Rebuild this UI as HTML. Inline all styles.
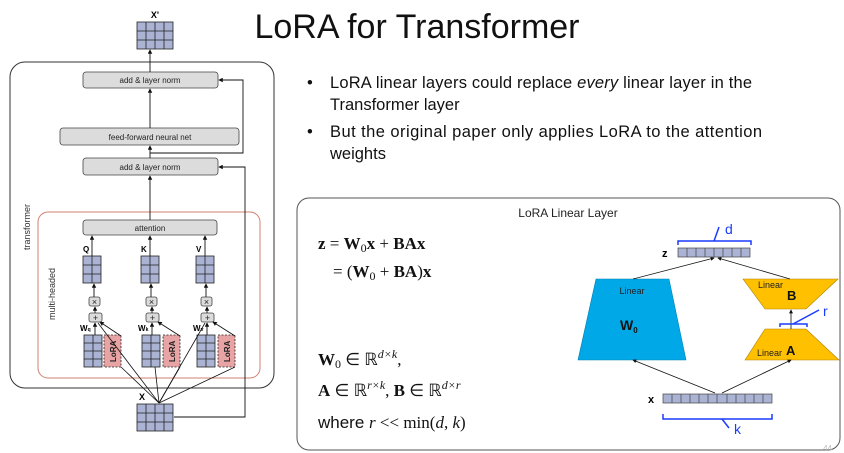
<!DOCTYPE html>
<html><head><meta charset="utf-8"><style>
body{margin:0;background:#fff;width:844px;height:453px;overflow:hidden}
svg{display:block}
text{font-family:"Liberation Sans",sans-serif}
.m{font-family:"Liberation Serif",serif}
</style></head><body>
<svg width="844" height="453" viewBox="0 0 844 453" xmlns="http://www.w3.org/2000/svg">
<defs>
<marker id="ar" viewBox="0 0 6 6" refX="5" refY="3" markerWidth="5" markerHeight="5" orient="auto"><path d="M0,0L6,3L0,6z" fill="#111"/></marker>
</defs>
<text x="417" y="38" font-size="34" text-anchor="middle" fill="#111">LoRA for Transformer</text>
<g font-size="16.5" fill="#111">
<text x="307" y="88">•</text><text x="330" y="88" textLength="422">LoRA linear layers could replace <tspan font-style="italic">every</tspan> linear layer in the</text>
<text x="330" y="110">Transformer layer</text>
<text x="307" y="137">•</text><text x="330" y="137" textLength="432">But the original paper only applies LoRA to the attention</text>
<text x="330" y="159">weights</text>
</g>

<rect x="10" y="62" width="264" height="326" rx="15" fill="none" stroke="#333" stroke-width="1"/>
<text transform="translate(30,250) rotate(-90)" font-size="9" fill="#333">transformer</text>
<rect x="38" y="212" width="222" height="166" rx="10" fill="none" stroke="#d08070" stroke-width="1"/>
<text transform="translate(55,320) rotate(-90)" font-size="9" fill="#333">multi-headed</text>

<g stroke="#222" stroke-width="0.8">
<rect x="137" y="22" width="36" height="27" fill="#aab3d3"/>
<path d="M146,22V49M155,22V49M164,22V49M137,31H173M137,40H173" fill="none"/>
<rect x="137" y="404" width="36" height="27" fill="#aab3d3"/>
<path d="M146,404V431M155,404V431M164,404V431M137,413H173M137,422H173" fill="none"/>
<rect x="83" y="256" width="18" height="27" fill="#aab3d3"/><path d="M92,256V283M83,265H101M83,274H101" fill="none"/>
<rect x="141" y="256" width="18" height="27" fill="#aab3d3"/><path d="M150,256V283M141,265H159M141,274H159" fill="none"/>
<rect x="196" y="256" width="18" height="27" fill="#aab3d3"/><path d="M205,256V283M196,265H214M196,274H214" fill="none"/>
<rect x="84" y="335" width="18" height="32" fill="#aab3d3"/><path d="M93,335V367M84,343H102M84,351H102M84,359H102" fill="none"/>
<rect x="142" y="335" width="18" height="32" fill="#aab3d3"/><path d="M151,335V367M142,343H160M142,351H160M142,359H160" fill="none"/>
<rect x="197" y="335" width="18" height="32" fill="#aab3d3"/><path d="M206,335V367M197,343H215M197,351H215M197,359H215" fill="none"/>
</g>
<text x="155" y="18" font-size="9" font-weight="bold" text-anchor="middle">X'</text>
<text x="139" y="400" font-size="9" font-weight="bold">X</text>

<g fill="#dcdcdc" stroke="#444" stroke-width="0.8">
<rect x="83" y="72" width="135" height="16" rx="3"/>
<rect x="60" y="128" width="179" height="17" rx="3"/>
<rect x="83" y="158" width="135" height="17" rx="3"/>
<rect x="83" y="220" width="134" height="15" rx="3"/>
<rect x="89" y="297" width="11" height="9" rx="2"/><rect x="146" y="297" width="11" height="9" rx="2"/><rect x="201" y="297" width="11" height="9" rx="2"/>
<rect x="89" y="313" width="13" height="9" rx="2"/><rect x="146" y="313" width="13" height="9" rx="2"/><rect x="201" y="313" width="13" height="9" rx="2"/>
</g>
<g font-size="8" fill="#222" text-anchor="middle">
<text x="150" y="83">add &amp; layer norm</text>
<text x="150" y="140">feed-forward neural net</text>
<text x="150" y="170">add &amp; layer norm</text>
<text x="150" y="231">attention</text>
</g>
<g font-size="9" text-anchor="middle" fill="#222">
<text x="94.5" y="305">×</text><text x="151.5" y="305">×</text><text x="206.5" y="305">×</text>
<text x="95.5" y="321">+</text><text x="152.5" y="321">+</text><text x="207.5" y="321">+</text>
</g>
<g font-size="8" font-weight="bold">
<text x="83" y="252">Q</text><text x="141" y="252">K</text><text x="196" y="252">V</text>
<text x="80" y="331">W<tspan font-size="5">q</tspan></text><text x="138" y="331">W<tspan font-size="5">k</tspan></text><text x="193" y="331">W<tspan font-size="5">v</tspan></text>
</g>
<g fill="#e8a4a4" stroke="#222" stroke-width="0.8" stroke-dasharray="2,1.5">
<rect x="104" y="335" width="17" height="32"/><rect x="163" y="335" width="17" height="32"/><rect x="218" y="335" width="17" height="32"/>
</g>
<g font-size="8" font-weight="bold" fill="#222">
<text transform="translate(116,362) rotate(-90)">LoRA</text>
<text transform="translate(175,362) rotate(-90)">LoRA</text>
<text transform="translate(230,362) rotate(-90)">LoRA</text>
</g>
<g stroke="#111" stroke-width="0.9" fill="none" marker-end="url(#ar)">
<path d="M150,72V50"/>
<path d="M150,128V89"/>
<path d="M150,158V146"/>
<path d="M150,220V176"/>
<path d="M92,256V236"/><path d="M150,256V236"/><path d="M205,256V236"/>
<path d="M94,297V284"/><path d="M151,297V284"/><path d="M206,297V284"/>
<path d="M95,313V307"/><path d="M152,313V307"/><path d="M207,313V307"/>
<path d="M95,335V323"/><path d="M152,335V323"/><path d="M207,335V323"/>
<path d="M121,336L100,322"/><path d="M180,336L158,322"/><path d="M235,336L213,322"/>
<path d="M150,153H243V80H219"/>
<path d="M174,417H245V167H219"/>
</g>
<g stroke="#111" stroke-width="0.8" fill="none">
<path d="M159,403L98,323"/><path d="M159,403L121,367"/><path d="M159,403L155,367"/><path d="M159,403L180,367"/><path d="M159,403L205,323"/><path d="M159,403L235,367"/>
</g>

<rect x="297" y="198" width="543" height="252" rx="12" fill="none" stroke="#555" stroke-width="1"/>
<text x="568" y="217" font-size="12" text-anchor="middle" fill="#222">LoRA Linear Layer</text>
<g class="m" font-size="17" fill="#111">
<text x="318" y="249" class="m"><tspan font-weight="bold">z</tspan> = <tspan font-weight="bold">W</tspan><tspan font-size="12" dy="3">0</tspan><tspan dy="-3" font-weight="bold">x</tspan> + <tspan font-weight="bold">BAx</tspan></text>
<text x="333" y="277" class="m">= (<tspan font-weight="bold">W</tspan><tspan font-size="12" dy="3">0</tspan><tspan dy="-3"> + </tspan><tspan font-weight="bold">BA</tspan>)<tspan font-weight="bold">x</tspan></text>
<text x="318" y="365" class="m"><tspan font-weight="bold">W</tspan><tspan font-size="12" dy="3">0</tspan><tspan dy="-3"> ∈ ℝ</tspan><tspan font-size="12" font-style="italic" dy="-7">d×k</tspan><tspan dy="7">,</tspan></text>
<text x="318" y="396" class="m"><tspan font-weight="bold">A</tspan> ∈ ℝ<tspan font-size="12" font-style="italic" dy="-7">r×k</tspan><tspan dy="7">, </tspan><tspan font-weight="bold">B</tspan> ∈ ℝ<tspan font-size="12" font-style="italic" dy="-7">d×r</tspan></text>
</g>
<text x="318" y="428" font-size="17" fill="#111">where <tspan class="m" font-style="italic">r</tspan><tspan class="m"> &lt;&lt; min(</tspan><tspan class="m" font-style="italic">d</tspan><tspan class="m">, </tspan><tspan class="m" font-style="italic">k</tspan><tspan class="m">)</tspan></text>

<path d="M596,279H669L686,360H578Z" fill="#00a8e8" stroke="#0080b0" stroke-width="0.6"/>
<path d="M743,279H838L806,309H765Z" fill="#ffc000" stroke="#b08000" stroke-width="0.6"/>
<path d="M765,329H806L839,360H745Z" fill="#ffc000" stroke="#b08000" stroke-width="0.6"/>
<text x="632" y="294" font-size="9" text-anchor="middle" fill="#222">Linear</text>
<text x="620" y="330" font-size="14" font-weight="bold" fill="#111">W<tspan font-size="8" dy="3">0</tspan></text>
<text x="758" y="288" font-size="9" fill="#222">Linear</text>
<text x="787" y="300" font-size="13" font-weight="bold" fill="#111">B</text>
<text x="757" y="356" font-size="9" fill="#222">Linear</text>
<text x="786" y="355" font-size="13" font-weight="bold" fill="#111">A</text>
<g stroke="#444" stroke-width="0.7">
<rect x="678" y="248" width="72" height="9" fill="#aab3d3"/>
<path d="M687,248V257M696,248V257M705,248V257M714,248V257M723,248V257M732,248V257M741,248V257"/>
<rect x="663" y="394" width="109" height="9" fill="#aab3d3"/>
<path d="M672,394V403M681,394V403M690,394V403M699,394V403M708,394V403M717,394V403M727,394V403M736,394V403M745,394V403M754,394V403M763,394V403"/>
</g>
<text x="662" y="257" font-size="11" font-weight="bold">z</text>
<text x="648" y="403" font-size="11" font-weight="bold">x</text>
<g stroke="#111" stroke-width="0.8" fill="none" marker-end="url(#ar)">
<path d="M633,279L714,258"/>
<path d="M790,279L718,258"/>
<path d="M715,393L633,360"/>
<path d="M722,393L791,360"/>
<path d="M791,329L791,310"/>
</g>
<g stroke="#1a3cff" stroke-width="1.5" fill="none">
<path d="M678,245V241H751V245"/><path d="M714,241L719,227"/>
<path d="M663,414V419H772V414"/><path d="M722,419L729,428"/>
<path d="M780,327V324H807V327"/><path d="M793,324L819,310"/>
</g>
<g fill="#1a3cff" font-size="14">
<text x="725" y="234">d</text><text x="734" y="434">k</text><text x="823" y="316">r</text>
</g>
<text x="832" y="451" font-size="8" fill="#bbb" text-anchor="end">44</text>
</svg>
</body></html>
